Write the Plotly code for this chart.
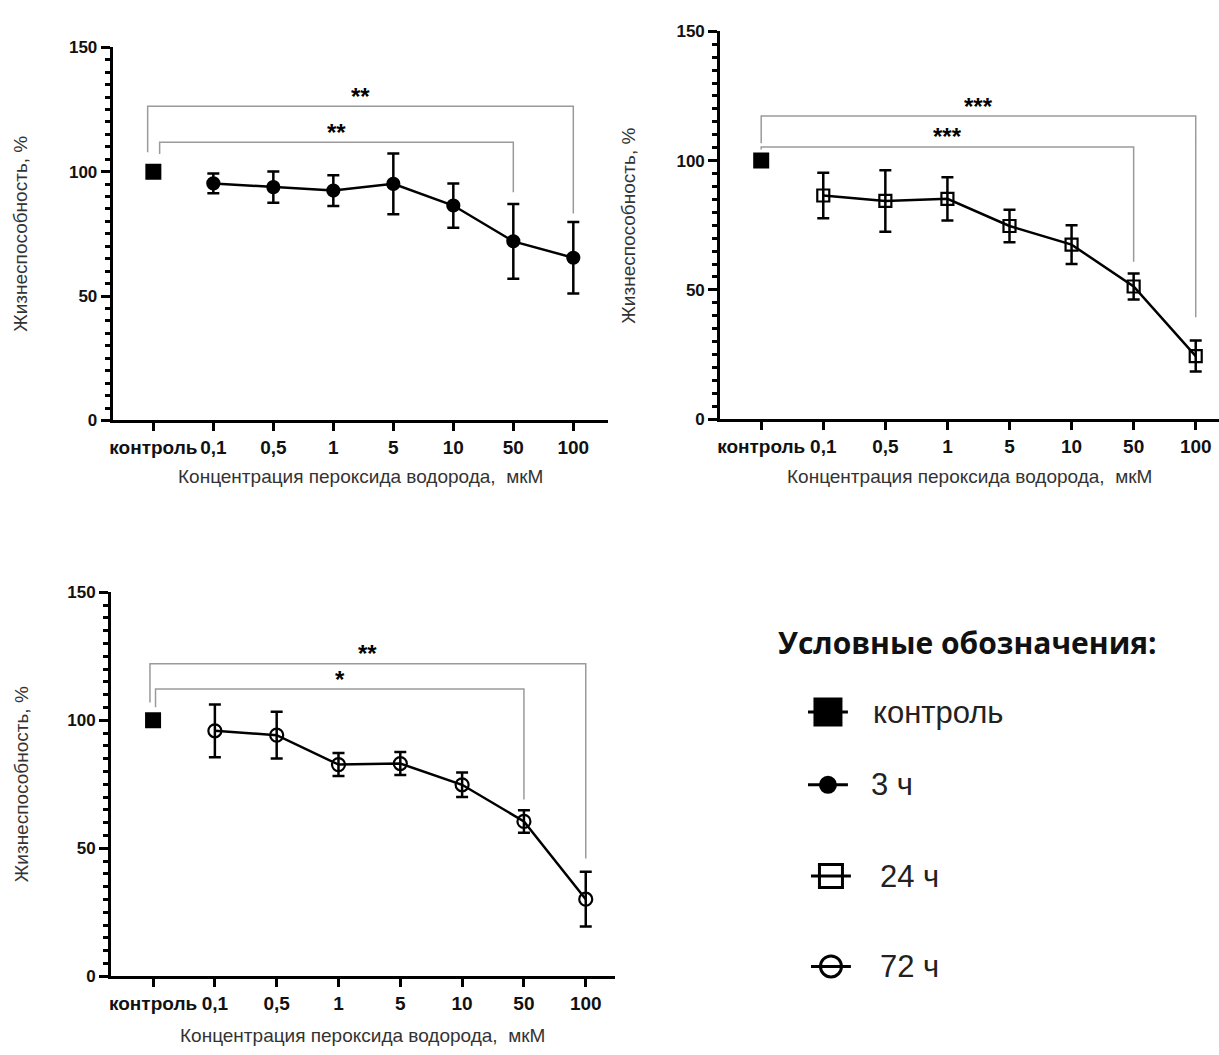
import plotly.graph_objects as go

# ---------------- data ----------------
categories = ["контроль", "0,1", "0,5", "1", "5", "10", "50", "100"]
control_value = [100]

viab_3h = [95.3, 93.8, 92.4, 95.1, 86.4, 72.0, 65.4]
sd_3h = [4.0, 6.3, 6.2, 12.2, 8.9, 15.0, 14.4]

viab_24h = [86.5, 84.4, 85.2, 74.7, 67.5, 51.3, 24.4]
sd_24h = [8.8, 11.9, 8.4, 6.3, 7.5, 5.0, 6.0]

viab_72h = [95.9, 94.2, 82.7, 83.1, 74.8, 60.5, 30.1]
sd_72h = [10.3, 9.1, 4.5, 4.5, 4.8, 4.4, 10.7]

# significance brackets: (left idx, right idx, level, left drop, right drop, label)
brackets_3h = [(-0.095, 7, 126.3, 107.8, 83.2, "**"), (0.105, 6, 111.8, 107.1, 91.7, "**")]
brackets_24h = [(0.0, 7, 117.2, 106.7, 39.4, "***"), (0.0, 6, 105.3, 104.3, 60.9, "***")]
brackets_72h = [(-0.05, 7, 122.1, 106.9, 46.0, "**"), (0.04, 6, 112.2, 105.1, 69.1, "*")]

y_tick_vals = [0, 50, 100, 150]
x_title = "Концентрация пероксида водорода,  мкМ"
y_title = "Жизнеспособность, %"
legend_title = "Условные обозначения:"
legend_labels = ["контроль", "3 ч", "24 ч", "72 ч"]

# ---------------- layout helpers ----------------
W, H = 1219, 1055


def fx(p):
    return p / W


def fy(p):
    return 1 - p / H


panels = [
    dict(n="", xdom=(110, 606), ydom=(39, 419), xr=(-0.677, 7.57),
         vals=viab_3h, sd=sd_3h, sym="circle", size=12, br=brackets_3h,
         ytx=18, xty=476),
    dict(n="2", xdom=(719, 1219), ydom=(22.7, 417.7), xr=(-0.66, 7.375),
         vals=viab_24h, sd=sd_24h, sym="square-open", size=12, br=brackets_24h,
         ytx=627, xty=476),
    dict(n="3", xdom=(108.3, 613.3), ydom=(594, 985), xr=(-0.68, 7.47),
         vals=viab_72h, sd=sd_72h, sym="circle-open", size=13, br=brackets_72h,
         ytx=18, xty=1045),
]

fig = go.Figure()
annotations = []
XTICKFONT = dict(family="Liberation Sans, Arial, sans-serif", size=19, color="#111", weight="bold")
YTICKFONT = dict(family="Liberation Sans, Arial, sans-serif", size=17, color="#111", weight="bold")
TITLEFONT = dict(family="Liberation Sans, Arial, sans-serif", size=19, color="#333")

for p in panels:
    xa, ya = "x" + p["n"], "y" + p["n"]
    # control point
    fig.add_trace(go.Scatter(x=[0], y=control_value, mode="markers", xaxis=xa, yaxis=ya,
                             marker=dict(symbol="square", size=16, color="black", opacity=1),
                             showlegend=False, hoverinfo="skip"))
    # series
    fig.add_trace(go.Scatter(
        x=list(range(1, len(categories))), y=p["vals"], xaxis=xa, yaxis=ya,
        mode="lines+markers",
        line=dict(color="black", width=2.5),
        marker=dict(symbol=p["sym"], size=p["size"], color="black", opacity=1,
                    line=dict(color="black", width=2.2)),
        error_y=dict(type="data", array=p["sd"], visible=True, color="black",
                     thickness=2.5, width=6),
        showlegend=False, hoverinfo="skip"))
    # brackets
    for (xl, xr_, lvl, ld, rd, lab) in p["br"]:
        fig.add_trace(go.Scatter(x=[xl, xl, xr_, xr_], y=[ld, lvl, lvl, rd], mode="lines",
                                 xaxis=xa, yaxis=ya, line=dict(color="#9a9a9a", width=1.5),
                                 showlegend=False, hoverinfo="skip"))
        annotations.append(dict(x=(xl + xr_) / 2, y=lvl, xref=xa, yref=ya, text=lab,
                                showarrow=False, yanchor="middle", yshift=10,
                                font=dict(family="Liberation Sans, Arial", size=24,
                                          color="black", weight="bold")))
    axkey = "xaxis" + p["n"]
    aykey = "yaxis" + p["n"]
    fig.update_layout(**{
        axkey: dict(domain=[fx(p["xdom"][0]), fx(p["xdom"][1])], range=list(p["xr"]),
                    anchor=ya, showline=True, linewidth=3, linecolor="black",
                    showgrid=False, zeroline=False, ticks="outside", ticklen=8,
                    tickwidth=2.5, tickcolor="black", tickmode="array",
                    tickvals=list(range(len(categories))), ticktext=categories,
                    tickfont=XTICKFONT, fixedrange=True),
        aykey: dict(domain=[fy(p["ydom"][1]), fy(p["ydom"][0])], range=[0, 150],
                    anchor=xa, showline=True, linewidth=3, linecolor="black",
                    showgrid=False, zeroline=False, ticks="outside", ticklen=9,
                    tickwidth=2.5, tickcolor="black", tickmode="array",
                    tickvals=y_tick_vals, tickfont=YTICKFONT,
                    minor=dict(dtick=5, tick0=0, ticks="outside", ticklen=5,
                               tickwidth=2.5, tickcolor="black", showgrid=False),
                    fixedrange=True),
    })
    # axis titles
    annotations.append(dict(x=fx(p["ytx"]), y=fy((p["ydom"][0] + p["ydom"][1]) / 2),
                            xref="paper", yref="paper", text=y_title, textangle=-90,
                            showarrow=False, xanchor="center", yanchor="middle",
                            font=TITLEFONT))
    annotations.append(dict(x=fx((p["xdom"][0] + min(p["xdom"][1], 1219)) / 2),
                            y=fy(p["xty"]), xref="paper", yref="paper", text=x_title,
                            showarrow=False, xanchor="center", yanchor="middle",
                            font=TITLEFONT))

# ---------------- legend (hidden axis in pixel units) ----------------
lx0, lx1 = 731.4, 1219.0
ly_bot, ly_top = 1055.0, 600.0
fig.update_layout(
    xaxis4=dict(domain=[fx(lx0), fx(lx1)], range=[lx0, lx1], visible=False, fixedrange=True),
    yaxis4=dict(domain=[fy(ly_bot), fy(ly_top)], range=[ly_bot, ly_top], visible=False,
                anchor="x4", fixedrange=True),
)
row_y = [716, 790, 883, 975]
sym_cx = [827, 827, 830, 830]
sym_half = 20
text_x = [870, 868, 877, 877]
leg_sym = ["square", "circle", "square-open", "circle-open"]
leg_size = [26, 15, 23, 21]
for i, lab in enumerate(legend_labels):
    fig.add_trace(go.Scatter(
        x=[sym_cx[i] - sym_half, sym_cx[i], sym_cx[i] + sym_half], y=[row_y[i]] * 3,
        xaxis="x4", yaxis="y4", mode="lines+markers",
        line=dict(color="black", width=3),
        marker=dict(symbol=leg_sym[i], size=[0, leg_size[i], 0], color="black", opacity=1,
                    line=dict(color="black", width=3)),
        showlegend=False, hoverinfo="skip"))
    annotations.append(dict(x=text_x[i], y=row_y[i], xref="x4", yref="y4", text=lab,
                            showarrow=False, xanchor="left", yanchor="middle",
                            font=dict(family="Liberation Sans, Arial", size=31, color="#222")))
annotations.append(dict(x=775, y=645, xref="x4", yref="y4", text=legend_title,
                        showarrow=False, xanchor="left", yanchor="middle",
                        font=dict(family="Open Sans, sans-serif", size=30, color="#111",
                                  weight="bold")))

fig.update_layout(
    width=W, height=H, margin=dict(l=0, r=0, t=0, b=0),
    paper_bgcolor="white", plot_bgcolor="white",
    showlegend=False, annotations=annotations,
)

fig.write_html("out.html", post_script="document.body.style.margin='0';")
